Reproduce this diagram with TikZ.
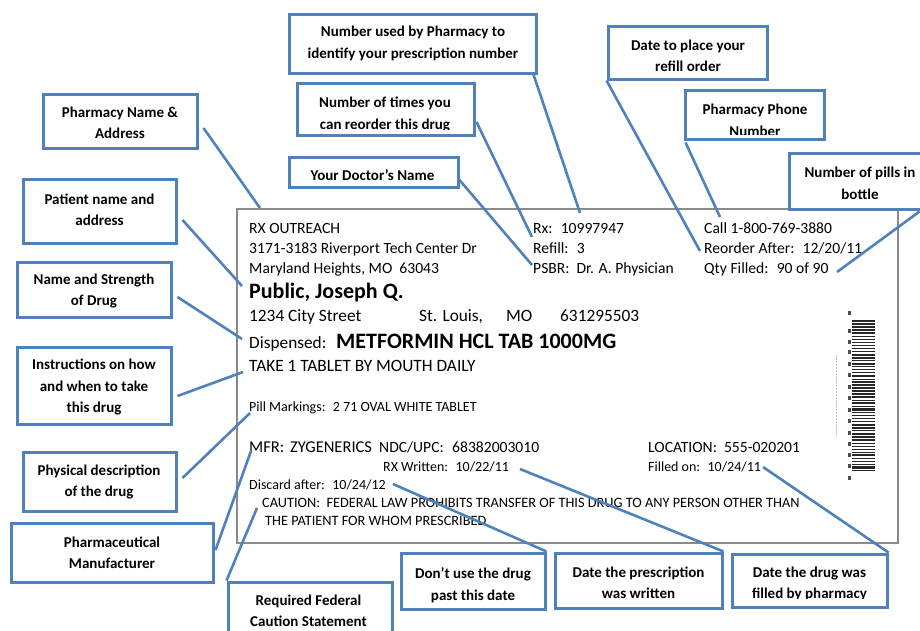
\documentclass[tikz,border=0pt]{standalone}
\usepackage{fontspec}
\setmainfont{Carlito}
\usetikzlibrary{calc,fit}
\definecolor{cblue}{HTML}{4F81BD}
\definecolor{lgray}{HTML}{8A8A8A}
\tikzset{
  cbox/.style={draw=cblue, line width=3pt, rectangle, inner sep=0pt},
  conn/.style={draw=cblue, line width=2.6pt},
  ctext/.style={align=center, inner sep=0pt, font=\fontsize{15}{21.5}\selectfont\bfseries},
  lt/.style={anchor=base west, inner sep=0pt, font=\fontsize{15.6}{18}\selectfont},
  lm/.style={anchor=base west, inner sep=0pt, font=\fontsize{17.3}{19}\selectfont},
  ls/.style={anchor=base west, inner sep=0pt, font=\fontsize{14}{16}\selectfont},
  lc/.style={anchor=base west, inner sep=0pt, font=\fontsize{14.3}{16}\selectfont},
  lb/.style={anchor=base west, inner sep=0pt, font=\fontsize{22}{24}\selectfont\bfseries},
  labelbox/.style={draw=lgray, line width=1.3pt, rectangle, inner sep=0pt},
}
\begin{document}
\begin{tikzpicture}[x=1pt,y=-1pt]
\useasboundingbox (0,0) rectangle (920,630);

% ---------- prescription label ----------
\node[labelbox, fit={(237,209) (898,543)}] (lab) {};

\node[lt] (l1) at (249,233) {RX OUTREACH};
\node[lt] (l2) at (249,253) {3171-3183 Riverport Tech Center Dr};
\node[lt] (l3) at (249,273) {Maryland Heights, MO~ 63043};
\node[lb] (l4) at (249,298) {Public, Joseph Q.};
\node[lm] (l5a) at (249,321) {1234 City Street};
\node[lm] (l5b) at (419,321) {St. Louis,};
\node[lm] (l5c) at (506,321) {MO};
\node[lm] (l5d) at (560,321) {631295503};
\node[lm] (l6a) at (249,348) {Dispensed:};
\node[lb] (l6b) at (336,348) {METFORMIN HCL TAB 1000MG};
\node[lm] (l7) at (249,371) {TAKE 1 TABLET BY MOUTH DAILY};
\node[ls] (l8) at (249,411) {Pill Markings:~ 2 71 OVAL WHITE TABLET};
\node[anchor=base west, inner sep=0pt, font=\fontsize{16.5}{18}\selectfont] (l9a) at (249,452) {MFR:};
\node[anchor=base west, inner sep=0pt, font=\fontsize{16.5}{18}\selectfont] (l9d) at (290,452) {ZYGENERICS};
\node[lt] (l9b) at (379,452) {NDC/UPC:};
\node[lt] (l9c) at (452,452) {68382003010};
\node[ls] (l10) at (383,471) {RX Written:~ 10/22/11};
\node[ls] (l11) at (249,489) {Discard after:~ 10/24/12};
\node[lc] (l12) at (262,507) {CAUTION:~ FEDERAL LAW PROHIBITS TRANSFER OF THIS DRUG TO ANY PERSON OTHER THAN};
\node[lc] (l13) at (265,525) {THE PATIENT FOR WHOM PRESCRIBED};

\node[lt] (r1) at (533,233) {Rx:~ 10997947};
\node[lt] (r2) at (533,253) {Refill:~ 3};
\node[lt] (r3) at (533,273) {PSBR:~ Dr. A. Physician};
\node[lt] (c1) at (704,233) {Call 1-800-769-3880};
\node[lt] (c2) at (704,253) {Reorder After:~ 12/20/11};
\node[lt] (c3) at (704,273) {Qty Filled:~ 90 of 90};
\node[lt] (loc) at (648,452) {LOCATION:~ 555-020201};
\node[ls] (fil) at (648,471) {Filled on:~ 10/24/11};

% ---------- barcode ----------
\pgfmathsetseed{17}
\foreach \i in {0,...,49} {
  \pgfmathsetmacro\yy{321+\i*3.05}
  \pgfmathsetmacro\tt{0.6+1.9*rnd}
  \draw[line width=\tt pt, black!85] (851.5,\yy) -- (875,\yy);
}
\foreach \yy in {313,331,342,352,364,375,387,398,410,421,433,444,455,466,478} {
  \fill[black!70] (847.5,\yy-1.6) rectangle (850.5,\yy+1.6);
}
\draw[black!25, line width=0.8pt, dash pattern=on 2pt off 1pt] (836,355) -- (836,437);

% ---------- callout texts ----------
\node[ctext] (tpn)  at (120,123)   {Pharmacy Name \&\\Address};
\node[ctext] (tpa)  at (99.5,210)  {Patient name and\\address};
\node[ctext] (tns)  at (94,291)    {Name and Strength\\of Drug};
\node[ctext] (tins) at (94,387)    {Instructions on how\\and when to take\\this drug};
\node[ctext] (tphy) at (99,482)    {Physical description\\of the drug};
\node[ctext] (tmfr) at (112,553)   {Pharmaceutical\\Manufacturer};
\node[ctext] (tfed) at (308.5,611) {Required Federal\\Caution Statement};
\node[ctext] (trxn) at (413,43.5)  {Number used by Pharmacy to\\identify your prescription number};
\begin{scope}
  \clip (297,83) rectangle (474,129.5);
  \node[ctext] (tref) at (385,114.5) {Number of times you\\can reorder this drug};
\end{scope}
\node[ctext] (tdoc) at (372.5,175) {Your Doctor’s Name};
\node[ctext] (tdt)  at (688,56)    {Date to place your\\refill order};
\begin{scope}
  \clip (685,90) rectangle (824,134);
  \node[ctext] (tph) at (755,120.5) {Pharmacy Phone\\Number};
\end{scope}
\node[ctext] (tpills) at (860,183.5) {Number of pills in\\bottle};
\node[ctext] (tdis) at (473,585)   {Don’t use the drug\\past this date};
\node[ctext] (tpw)  at (638.5,583) {Date the prescription\\was written};
\begin{scope}
  \clip (732,554) rectangle (887,598.5);
  \node[ctext] (tfb) at (809.5,584) {Date the drug was\\filled by pharmacy};
\end{scope}

% ---------- callout boxes ----------
\node[cbox, fit={(43,94) (197,148)}]   (pn) {};
\node[cbox, fit={(23,179) (176,243)}]  (pa) {};
\node[cbox, fit={(17,262) (171,317)}]  (ns) {};
\node[cbox, fit={(17,347) (171,424)}]  (ins) {};
\node[cbox, fit={(23,452) (176,511)}]  (phy) {};
\node[cbox, fit={(11,523) (213,582)}]  (mfr) {};
\node[cbox, fit={(228,582) (392,650)}] (fed) {};
\node[cbox, fit={(289,14) (536,73)}]   (rxn) {};
\node[cbox, fit={(297,83) (474,135)}]  (ref) {};
\node[cbox, fit={(289,157) (458,187)}] (doc) {};
\node[cbox, fit={(608,26) (767,79)}]   (dt) {};
\node[cbox, fit={(685,90) (824,139)}]  (ph) {};
\node[cbox, fit={(789,153) (935,209)}] (pills) {};
\node[cbox, fit={(401,553) (545,609)}] (dis) {};
\node[cbox, fit={(555,553) (722,608)}] (pw) {};
\node[cbox, fit={(732,554) (887,607)}] (fb) {};

% ---------- connector ends on the label ----------
\coordinate (epn) at (260,208);
\coordinate (epa) at (242,286);
\coordinate (ens) at (242,339);
\coordinate (eins) at (243,372);
\coordinate (ephy) at (250,413);
\coordinate (emfr) at (251,451);
\coordinate (efed) at (257,508);
\coordinate (erxn) at (580,213);
\coordinate (eref) at (532,237);
\coordinate (edoc) at (532,265);
\coordinate (edt) at (700,251);
\coordinate (eph) at (720,217);
\coordinate (epills) at (837,272);
\coordinate (edis) at (393,484);
\coordinate (epw) at (520,469);
\coordinate (efb) at (763,467);

% ---------- connectors ----------
\draw[conn] ($(pn.east)+(5,7)$) -- (epn);
\draw[conn] ($(pa.east)+(5,9)$) -- (epa);
\draw[conn] ($(ns.east)+(5,7.5)$) -- (ens);
\draw[conn] ($(ins.east)+(5,10.5)$) -- (eins);
\draw[conn] ($(phy.east)+(5,-3.5)$) -- (ephy);
\draw[conn] ($(mfr.east)+(1,-2.5)$) -- (emfr);
\draw[conn] (fed.north west) -- (efed);
\draw[conn] ($(rxn.south east)+(-4,0)$) -- (erxn);
\draw[conn] ($(ref.east)+(1,13)$) -- (eref);
\draw[conn] ($(doc.east)+(0,8)$) -- (edoc);
\draw[conn] (dt.south west) -- (edt);
\draw[conn] ($(ph.south west)+(2,2)$) -- (eph);
\draw[conn] ($(pills.south east)+(-17,1)$) -- (epills);
\draw[conn] (dis.north east) -- (edis);
\draw[conn] (pw.north east) -- (epw);
\draw[conn] (fb.north east) -- (efb);
\end{tikzpicture}
\end{document}
